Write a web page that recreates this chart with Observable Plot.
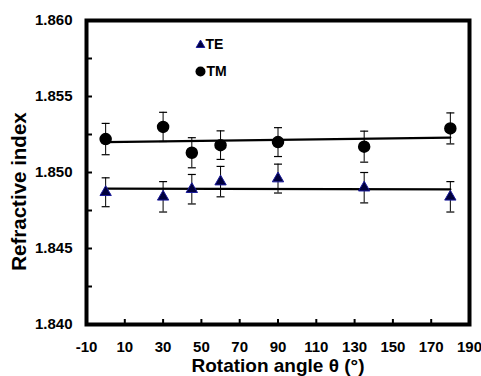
<!DOCTYPE html>
<html>
<head>
<meta charset="utf-8">
<script src="https://cdn.jsdelivr.net/npm/d3@7"></script>
<script src="https://cdn.jsdelivr.net/npm/@observablehq/plot@0.6"></script>
<style>
  html, body { margin: 0; padding: 0; background: #fff; }
  #chart svg { display: block; }
</style>
</head>
<body>
<div id="chart"></div>
<script>
// ---- data ----
const angles = [0, 30, 45, 60, 90, 135, 180];
const teIndex = [1.8487, 1.8484, 1.8489, 1.8494, 1.8496, 1.8490, 1.8484];
const teErr   = [0.00095, 0.0010, 0.00097, 0.0010, 0.00095, 0.0010, 0.0010];
const tmIndex = [1.8522, 1.8530, 1.8513, 1.8518, 1.8520, 1.8517, 1.8529];
const tmErr   = [0.00103, 0.00096, 0.00099, 0.00094, 0.00095, 0.00102, 0.00102];
const seriesNames = ["TE", "TM"];
const xTicks = [-10, 10, 30, 50, 70, 90, 110, 130, 150, 170, 190];
const yTicks = [1.840, 1.845, 1.850, 1.855, 1.860];
const yMinor = [1.8425, 1.845, 1.8475, 1.850, 1.8525, 1.855, 1.8575];
const xTitle = "Rotation angle θ (°)";
const yTitle = "Refractive index";

const te = angles.map((a, i) => ({x: a, y: teIndex[i], lo: teIndex[i] - teErr[i], hi: teIndex[i] + teErr[i]}));
const tm = angles.map((a, i) => ({x: a, y: tmIndex[i], lo: tmIndex[i] - tmErr[i], hi: tmIndex[i] + tmErr[i]}));

const cap = { draw(ctx) { ctx.moveTo(-4, 0); ctx.lineTo(4, 0); } };
const font = "'Liberation Sans', Arial, Helvetica, sans-serif";
const teFill = "#00003c", teStroke = "#1a1a9a";

const chart = Plot.plot({
  width: 481,
  height: 376,
  marginLeft: 86,
  marginRight: 12,
  marginTop: 20,
  marginBottom: 52,
  style: { fontFamily: font, fontWeight: "bold", color: "black", background: "white" },
  x: { domain: [-10, 190], label: null },
  y: { domain: [1.840, 1.860], label: null },
  marks: [
    // tick labels
    Plot.axisY({ ticks: yTicks, tickSize: 0, tickPadding: 14, tickFormat: d3.format(".3f"), fontSize: 15, fontWeight: "bold", label: null }),
    Plot.axisX({ ticks: xTicks, tickSize: 0, tickPadding: 17, tickFormat: d => String(d), fontSize: 15, fontWeight: "bold", label: null }),
    // inward ticks
    Plot.axisY({ ticks: yMinor, tickSize: 6, dx: 6, tickFormat: () => "", strokeWidth: 2, label: null }),
    Plot.axisX({ ticks: xTicks.slice(1, -1), tickSize: 5, dy: -5, tickFormat: () => "", strokeWidth: 2, label: null }),
    // fit lines
    Plot.linearRegressionY(te, { x: "x", y: "y", ci: 0, stroke: "black", strokeWidth: 2.2 }),
    Plot.linearRegressionY(tm, { x: "x", y: "y", ci: 0, stroke: "black", strokeWidth: 2.2 }),
    // error bars
    Plot.ruleX(te, { x: "x", y1: "lo", y2: "hi", stroke: "black", strokeWidth: 1 }),
    Plot.ruleX(tm, { x: "x", y1: "lo", y2: "hi", stroke: "black", strokeWidth: 1 }),
    Plot.dot(te, { x: "x", y: "lo", symbol: cap, fill: "none", stroke: "black", strokeWidth: 1.2 }),
    Plot.dot(te, { x: "x", y: "hi", symbol: cap, fill: "none", stroke: "black", strokeWidth: 1.2 }),
    Plot.dot(tm, { x: "x", y: "lo", symbol: cap, fill: "none", stroke: "black", strokeWidth: 1.2 }),
    Plot.dot(tm, { x: "x", y: "hi", symbol: cap, fill: "none", stroke: "black", strokeWidth: 1.2 }),
    // markers
    Plot.dot(te, { x: "x", y: "y", symbol: "triangle", r: 4.2, fill: teFill, stroke: teStroke, strokeWidth: 1 }),
    Plot.dot(tm, { x: "x", y: "y", symbol: "circle", r: 5.5, fill: "black", stroke: "black" }),
    // legend
    Plot.dot([seriesNames[0]], { frameAnchor: "top-left", dx: 114, dy: 24.5, symbol: "triangle", r: 3.2, fill: teFill, stroke: teStroke, strokeWidth: 1 }),
    Plot.dot([seriesNames[1]], { frameAnchor: "top-left", dx: 114, dy: 51, symbol: "circle", r: 5, fill: "black" }),
    Plot.text([seriesNames[0]], { text: d => d, frameAnchor: "top-left", dx: 119, dy: 24.5, textAnchor: "start", lineAnchor: "middle", fontSize: 14, fontWeight: "bold", fill: "black" }),
    Plot.text([seriesNames[1]], { text: d => d, frameAnchor: "top-left", dx: 120, dy: 51, textAnchor: "start", lineAnchor: "middle", fontSize: 14, fontWeight: "bold", fill: "black" }),
    // axis titles
    Plot.text([xTitle], { text: d => d, frameAnchor: "bottom", dy: 41, textAnchor: "middle", lineAnchor: "middle", fontSize: 19, fontWeight: "bold", fill: "black" }),
    Plot.text([yTitle], { text: d => d, frameAnchor: "left", dx: -67, dy: 19, rotate: -90, textAnchor: "middle", lineAnchor: "middle", fontSize: 20.5, fontWeight: "bold", fill: "black" }),
    // frame
    Plot.frame({ stroke: "black", strokeWidth: 4 })
  ]
});
document.getElementById("chart").appendChild(chart);
</script>
</body>
</html>
